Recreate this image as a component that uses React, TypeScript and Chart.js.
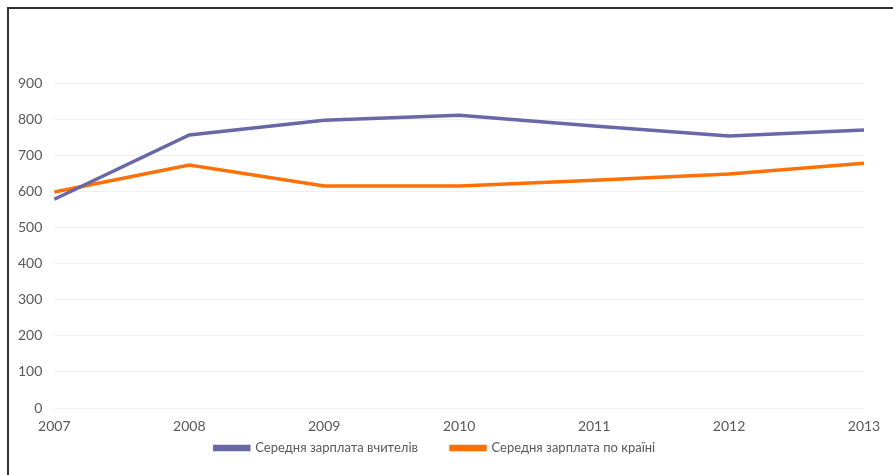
import React, { useEffect, useRef } from "react";
import { Chart, registerables } from "chart.js";

Chart.register(...registerables);

const years = ["2007", "2008", "2009", "2010", "2011", "2012", "2013"];
const teacherSalary = [578, 756, 797, 811, 781, 753, 770];
const nationalSalary = [598, 673, 615, 615, 631, 648, 678];
const seriesNames = ["Середня зарплата вчителів", "Середня зарплата по країні"];
const seriesColors = ["#6A67A6", "#FF7006"];

const LEGEND_GAP = 33;
const LEGEND_HEIGHT = 28;
const LEGEND_SHIFT = 28.5;

const legendTweak = {
  id: "legendTweak",
  beforeUpdate(chart: any) {
    const lg = chart.legend;
    if (!lg || lg._tweaked) return;
    lg._tweaked = true;
    const origFit = lg.fit;
    lg.fit = function () {
      origFit.call(this);
      this.height = LEGEND_HEIGHT;
    };
    const origDraw = lg._draw;
    lg._draw = function () {
      const ctx = this.ctx;
      ctx.save();
      ctx.translate(0, -LEGEND_SHIFT);
      origDraw.call(this);
      ctx.restore();
    };
  },
};

export default function App() {
  const ref = useRef<HTMLCanvasElement | null>(null);
  useEffect(() => {
    if (!ref.current) return;
    const font = { family: "Lato, sans-serif", size: 14 };
    const legendFont = { family: "Lato, sans-serif", size: 13 };
    const chart = new Chart(ref.current, {
      type: "line",
      data: {
        labels: years,
        datasets: [
          {
            label: seriesNames[0],
            data: teacherSalary,
            borderColor: seriesColors[0],
            backgroundColor: seriesColors[0],
            borderWidth: 3.5,
            pointRadius: 0,
            tension: 0,
          },
          {
            label: seriesNames[1],
            data: nationalSalary,
            borderColor: seriesColors[1],
            backgroundColor: seriesColors[1],
            borderWidth: 3.5,
            pointRadius: 0,
            tension: 0,
          },
        ],
      },
      plugins: [legendTweak],
      options: {
        animation: false,
        responsive: true,
        maintainAspectRatio: false,
        layout: { padding: { top: 74, right: 29, bottom: 10, left: -3 } },
        plugins: {
          legend: {
            position: "bottom",
            labels: {
              boxWidth: 34,
              boxHeight: 3,
              color: "#595959",
              font: legendFont,
              padding: LEGEND_GAP,
            },
          },
          tooltip: { enabled: false },
        },
        scales: {
          x: {
            offset: false,
            grid: { display: false, drawTicks: false },
            border: { display: false },
            ticks: { color: "#595959", font, maxRotation: 0, padding: 10.5 },
            afterFit(scale: any) {
              scale.height = 29;
            },
          },
          y: {
            min: 0,
            max: 900,
            grid: { color: "#EFEFEF", lineWidth: 1, drawTicks: false },
            border: { display: false },
            ticks: { stepSize: 100, color: "#595959", font, padding: 12 },
          },
        },
      },
    });
    return () => chart.destroy();
  }, []);
  return (
    <div
      style={{
        position: "fixed",
        left: 7,
        top: 7,
        width: 886,
        height: 468,
        borderTop: "2px solid #333",
        borderLeft: "2px solid #333",
        background: "#fff",
        boxSizing: "border-box",
      }}
    >
      <div style={{ position: "relative", width: "100%", height: "100%" }}>
        <canvas ref={ref} />
      </div>
    </div>
  );
}
